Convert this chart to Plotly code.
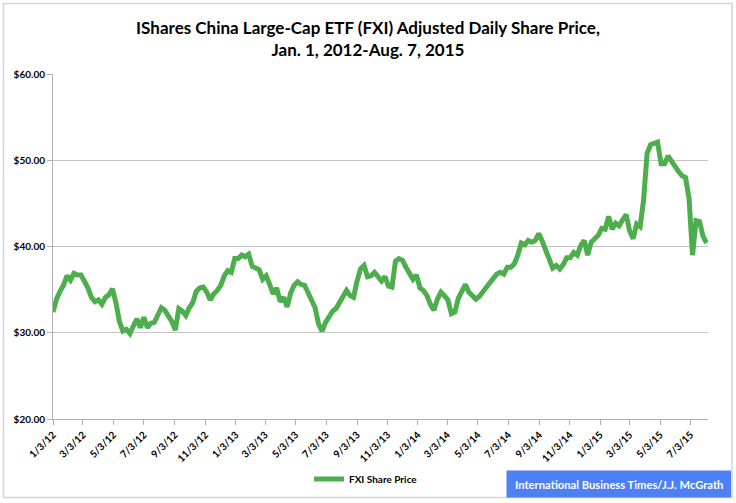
import pandas as pd
import plotly.graph_objects as go

title_line1 = "IShares China Large-Cap ETF (FXI) Adjusted Daily Share Price,"
title_line2 = "Jan. 1, 2012-Aug. 7, 2015"
series_name = "FXI Share Price"
credit = "International Business Times/J.J. McGrath"
start_date = "2012-01-03"
end_date = "2015-08-07"

# Weekly readings of the adjusted share price (USD), starting 2012-01-03
prices = [
    32.4, 33.9, 34.8, 35.5, 36.6, 36.1, 36.9, 36.7, 36.7, 36.0,
    35.2, 34.1, 33.6, 33.8, 33.3, 34.1, 34.4, 35.1, 33.5, 31.3,
    30.2, 30.4, 29.9, 30.8, 31.6, 30.6, 31.8, 30.6, 31.1, 31.2,
    32.1, 32.9, 32.6, 32.0, 31.3, 30.3, 32.8, 32.5, 32.0, 32.9,
    33.5, 34.8, 35.2, 35.3, 34.7, 33.8, 34.5, 34.9, 35.5, 36.6,
    37.2, 37.0, 38.6, 38.6, 39.0, 38.8, 39.1, 37.7, 37.5, 37.3,
    36.2, 36.6, 35.6, 34.5, 35.2, 33.6, 34.1, 33.0, 34.6, 35.5,
    35.9, 35.6, 35.5, 34.6, 34.0, 32.9, 31.0, 30.2, 31.2, 31.9,
    32.5, 32.8, 33.6, 34.2, 34.9, 34.3, 34.1, 36.0, 37.4, 37.8,
    36.5, 36.6, 37.0, 36.5, 36.0, 36.5, 35.4, 35.3, 38.3, 38.6,
    38.4, 37.6, 36.9, 36.2, 36.7, 35.2, 34.9, 34.3, 33.3, 32.6,
    33.9, 34.7, 34.3, 33.8, 32.2, 32.4, 34.0, 34.7, 35.6, 34.7,
    34.2, 33.9, 34.2, 34.8, 35.2, 35.8, 36.3, 36.8, 37.0, 36.8,
    37.6, 37.6, 38.0, 39.0, 40.4, 40.2, 40.7, 40.5, 40.7, 41.5,
    40.6, 39.5, 38.2, 37.5, 37.8, 37.4, 37.9, 38.7, 38.7, 39.3,
    39.0, 40.1, 40.7, 39.0, 40.5, 40.9, 41.3, 42.1, 42.0, 43.5,
    42.0, 42.7, 42.4, 43.1, 43.7, 41.8, 40.9, 42.6, 42.3, 45.4,
    50.8, 51.8, 51.9, 52.1, 49.6, 49.6, 50.5, 49.8, 49.3, 48.7,
    48.2, 48.0, 45.6, 39.0, 43.0, 42.9, 41.2, 40.4,
]
dates = pd.date_range(start_date, periods=len(prices), freq="7D")

y_ticks = [20, 30, 40, 50, 60]

FONT = "Lato"
GRID = "#c4c4c4"

fig = go.Figure()
fig.add_trace(go.Scatter(
    x=dates, y=prices, mode="lines", name=series_name,
    line=dict(color="#4CAE4C", width=5),
))

W, H = 736, 503
ml, mr, mt, mb = 53, 28, 74, 84
pw, ph = W - ml - mr, H - mt - mb

def px(xp):
    return (xp - ml) / pw

def py(yp):
    return (H - mb - yp) / ph

fig.update_layout(
    width=W, height=H,
    margin=dict(l=ml, r=mr, t=mt, b=mb, autoexpand=False),
    paper_bgcolor="white", plot_bgcolor="white",
    font=dict(family=FONT, color="#000000"),
    title=dict(
        text=title_line1 + "<br>" + title_line2,
        x=0.5, xanchor="center", y=1 - 34 / H, yanchor="middle",
        font=dict(family=FONT, size=17, weight="bold", color="#000000"),
    ),
    showlegend=True,
    legend=dict(
        orientation="h", x=px(309), xanchor="left", y=py(479), yanchor="middle",
        font=dict(family=FONT, size=10, weight="bold"),
        bgcolor="rgba(0,0,0,0)",
    ),
    xaxis=dict(
        type="date",
        range=[start_date, end_date],
        tick0=start_date, dtick="M2", tickformat="%-m/%-d/%y",
        tickangle=-45, ticks="outside", ticklen=5, tickcolor="#b0b0b0",
        showgrid=False, showline=True, linecolor="#b0b0b0", linewidth=1,
        tickfont=dict(family=FONT, size=10, weight="bold"),
        zeroline=False,
    ),
    yaxis=dict(
        range=[20, 60], tickvals=y_ticks, tickformat="$.2f",
        ticks="outside", ticklen=5, tickcolor="#b0b0b0",
        showgrid=True, gridcolor=GRID, gridwidth=1,
        showline=True, linecolor="#b0b0b0", linewidth=1,
        tickfont=dict(family=FONT, size=10, weight="bold"),
        zeroline=False,
    ),
    shapes=[
        dict(type="rect", xref="paper", yref="paper",
             x0=px(3.5), x1=px(732), y0=py(497.5), y1=py(3.5),
             line=dict(color="#d4d4d4", width=1.5), fillcolor="rgba(0,0,0,0)",
             layer="below"),
        dict(type="rect", xref="paper", yref="paper",
             x0=px(506.5), x1=px(731), y0=py(497.5), y1=py(470.5),
             line=dict(width=0), fillcolor="#4D80F5", layer="above"),
    ],
    annotations=[
        dict(text=credit, xref="paper", yref="paper",
             x=px(618.7), y=py(484), xanchor="center", yanchor="middle",
             showarrow=False,
             font=dict(family=FONT, size=11.2, weight="bold", color="white")),
    ],
)

fig.write_html("out.html", config={"displayModeBar": False},
               post_script="document.body.style.margin='0';")
